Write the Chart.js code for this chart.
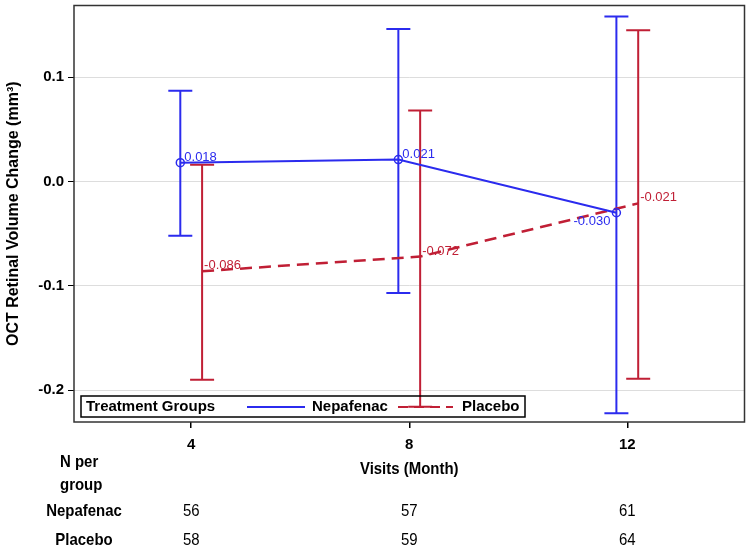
<!DOCTYPE html>
<html>
<head>
<meta charset="utf-8">
<script src="https://cdn.jsdelivr.net/npm/chart.js@4/dist/chart.umd.min.js"></script>
<style>
html,body{margin:0;padding:0;background:#fff}
#wrap{width:750px;height:548px}
</style>
</head>
<body>
<div id="wrap"><canvas id="oct"></canvas></div>
<script>
const visits = [4, 8, 12]
const tickLabels = ['4', '8', '12']
const yTicks = [-0.2, -0.1, 0.0, 0.1]

const nepMean = [0.018, 0.021, -0.030]
const nepLow = [-0.052, -0.107, -0.222]
const nepHigh = [0.087, 0.146, 0.158]

const plaMean = [-0.086, -0.072, -0.021]
const plaLow = [-0.190, -0.216, -0.189]
const plaHigh = [0.016, 0.068, 0.145]

const nepN = [56, 57, 61]
const plaN = [58, 59, 64]

const BLUE = '#2b2bee'
const RED = '#c01f35'
const SHIFT = 0.2
const FONT = 'Arial, "Liberation Sans", sans-serif'

// narrow-looking text like the SAS output
function narrow(ctx, txt, x, y, size, bold, align) {
  ctx.save()
  ctx.font = (bold ? 'bold ' : '') + size + 'px ' + FONT
  ctx.textAlign = align || 'center'
  ctx.translate(x, y)
  ctx.scale(0.88, 1)
  ctx.fillText(txt, 0, 0)
  ctx.restore()
}

const extras = {
  id: 'extras',
  beforeDatasetsDraw(chart) {
    const {ctx, scales: {x, y}} = chart
    const bars = [
      {mean: nepMean, lo: nepLow, hi: nepHigh, dx: -SHIFT, color: BLUE},
      {mean: plaMean, lo: plaLow, hi: plaHigh, dx: SHIFT, color: RED}
    ]
    ctx.save()
    ctx.lineWidth = 2
    bars.forEach(b => {
      ctx.strokeStyle = b.color
      visits.forEach((v, i) => {
        const px = x.getPixelForValue(v + b.dx)
        const y1 = y.getPixelForValue(b.lo[i])
        const y2 = y.getPixelForValue(b.hi[i])
        ctx.beginPath()
        ctx.moveTo(px, y1); ctx.lineTo(px, y2)
        ctx.moveTo(px - 12, y1); ctx.lineTo(px + 12, y1)
        ctx.moveTo(px - 12, y2); ctx.lineTo(px + 12, y2)
        ctx.stroke()
      })
    })
    ctx.restore()
  },
  afterDatasetsDraw(chart) {
    const {ctx, chartArea: a, scales: {x, y}} = chart
    ctx.save()
    // value labels
    ctx.font = '13px ' + FONT
    visits.forEach((v, i) => {
      const bx = x.getPixelForValue(v - SHIFT)
      const by = y.getPixelForValue(nepMean[i])
      ctx.fillStyle = BLUE
      if (i === 2) {
        ctx.textAlign = 'right'; ctx.textBaseline = 'top'
        ctx.fillText(nepMean[i].toFixed(3), bx - 6, by + 2)
      } else {
        ctx.textAlign = 'left'; ctx.textBaseline = 'bottom'
        ctx.fillText(nepMean[i].toFixed(3), bx + 4, by + 1)
      }
      const rx = x.getPixelForValue(v + SHIFT)
      const ry = y.getPixelForValue(plaMean[i])
      ctx.fillStyle = RED
      ctx.textAlign = 'left'; ctx.textBaseline = 'bottom'
      ctx.fillText(plaMean[i].toFixed(3), rx + 2, ry + 1)
    })

    // frame
    ctx.strokeStyle = '#333'
    ctx.lineWidth = 1.5
    ctx.strokeRect(a.left, a.top, a.right - a.left, a.bottom - a.top)

    // legend
    const lx = a.left + 7, ly = a.bottom - 26
    ctx.lineWidth = 1.5
    ctx.strokeStyle = '#000'
    ctx.strokeRect(lx, ly, 444, 21)
    const my = ly + 11
    ctx.fillStyle = '#000'
    ctx.font = 'bold 15px ' + FONT
    ctx.textAlign = 'left'; ctx.textBaseline = 'middle'
    ctx.fillText('Treatment Groups', lx + 5, my)
    ctx.lineWidth = 2
    ctx.strokeStyle = BLUE
    ctx.beginPath(); ctx.moveTo(lx + 166, my); ctx.lineTo(lx + 224, my); ctx.stroke()
    ctx.fillText('Nepafenac', lx + 231, my)
    ctx.strokeStyle = RED
    ctx.setLineDash([10, 6])
    ctx.beginPath(); ctx.moveTo(lx + 317, my); ctx.lineTo(lx + 372, my); ctx.stroke()
    ctx.setLineDash([])
    ctx.fillText('Placebo', lx + 381, my)

    // axis title and N table
    ctx.textBaseline = 'middle'
    narrow(ctx, 'Visits (Month)', x.getPixelForValue(8), 469, 17, true)
    narrow(ctx, 'N per', 60, 462, 17, true, 'left')
    narrow(ctx, 'group', 60, 485, 17, true, 'left')
    narrow(ctx, 'Nepafenac', 84, 511, 17, true)
    narrow(ctx, 'Placebo', 84, 540, 17, true)
    visits.forEach((v, i) => {
      const px = x.getPixelForValue(v)
      narrow(ctx, String(nepN[i]), px, 511, 17, false)
      narrow(ctx, String(plaN[i]), px, 540, 17, false)
    })
    ctx.restore()
  }
}

new Chart(document.getElementById('oct'), {
  type: 'scatter',
  data: {
    datasets: [{
      label: 'Nepafenac',
      data: visits.map((v, i) => ({x: v - SHIFT, y: nepMean[i]})),
      showLine: true,
      borderColor: BLUE,
      borderWidth: 2,
      pointRadius: 4,
      pointBorderWidth: 1.5,
      pointBackgroundColor: 'rgba(0,0,0,0)',
      pointBorderColor: BLUE,
      tension: 0
    }, {
      label: 'Placebo',
      data: visits.map((v, i) => ({x: v + SHIFT, y: plaMean[i]})),
      showLine: true,
      borderColor: RED,
      borderWidth: 2.5,
      borderDash: [12, 7],
      pointRadius: 0,
      tension: 0
    }]
  },
  options: {
    responsive: true,
    maintainAspectRatio: false,
    animation: false,
    layout: {padding: {top: 3, right: 4, left: 0, bottom: 0}},
    plugins: {
      legend: {display: false},
      tooltip: {enabled: false}
    },
    scales: {
      x: {
        type: 'linear',
        min: 1.85,
        max: 14.15,
        afterBuildTicks: s => { s.ticks = visits.map(v => ({value: v})) },
        afterFit: s => { s.height = 126; s.paddingLeft = 0; s.paddingRight = 0 },
        border: {display: false},
        grid: {drawOnChartArea: false, tickColor: '#000', tickLength: 6, lineWidth: 1.5},
        ticks: {
          color: '#000',
          padding: 8,
          font: {family: FONT, size: 15, weight: 'bold'},
          callback: v => tickLabels[visits.indexOf(v)]
        }
      },
      y: {
        min: -0.2305,
        max: 0.1686,
        afterBuildTicks: s => { s.ticks = yTicks.map(v => ({value: v})) },
        afterFit: s => { s.width = 74; s.paddingTop = 0; s.paddingBottom = 0 },
        border: {display: false},
        grid: {color: '#dddddd', tickColor: '#000', tickLength: 6, lineWidth: 1},
        ticks: {
          color: '#000',
          padding: 4,
          font: {family: FONT, size: 15, weight: 'bold'},
          callback: v => v.toFixed(1)
        },
        title: {
          display: true,
          text: 'OCT Retinal Volume Change (mm³)',
          color: '#000',
          padding: {top: 4, bottom: 0},
          font: {family: FONT, size: 16, weight: 'bold'}
        }
      }
    }
  },
  plugins: [extras]
})
</script>
</body>
</html>
